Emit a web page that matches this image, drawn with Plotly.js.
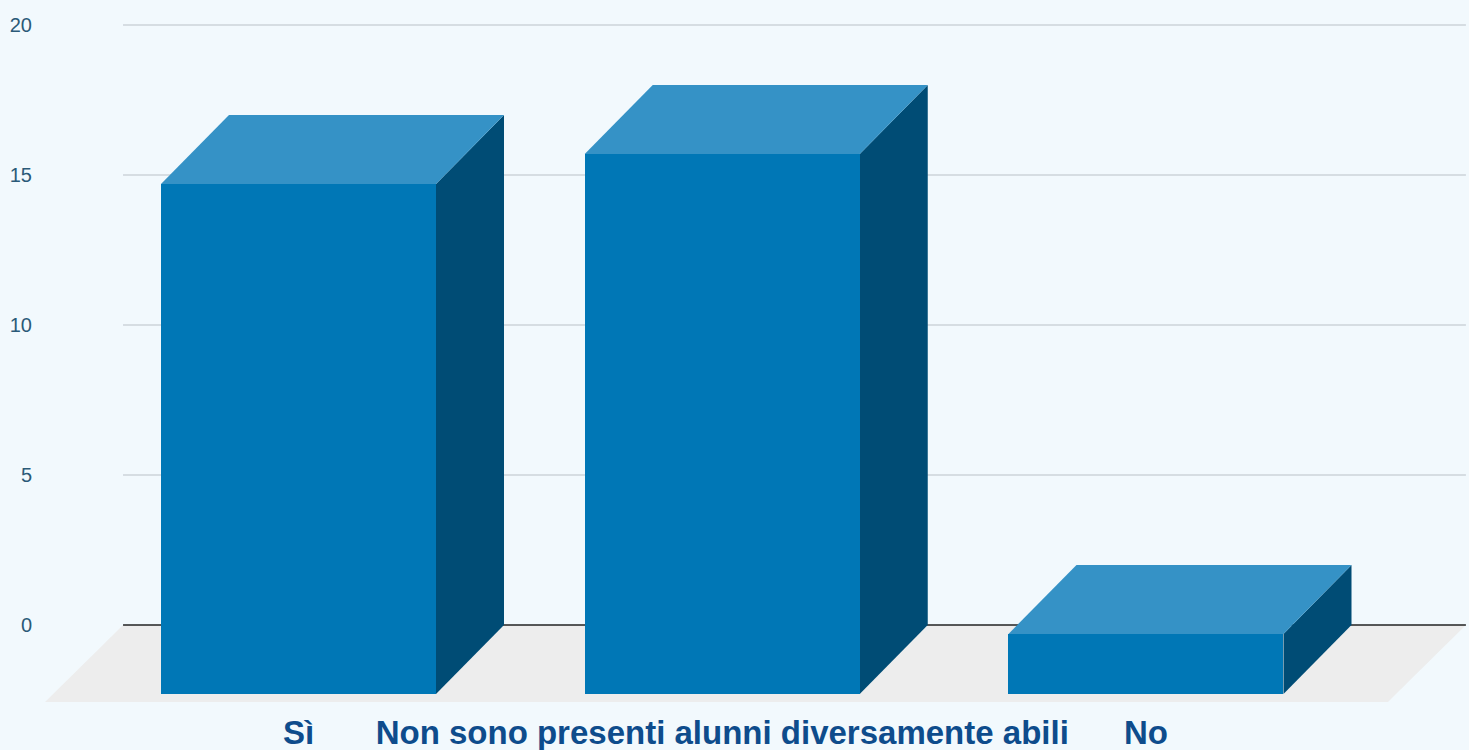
<!DOCTYPE html>
<html>
<head>
<meta charset="utf-8">
<script src="https://cdn.plot.ly/plotly-3.0.1.min.js"></script>
<style>
html,body{margin:0;padding:0;background:#f2f9fd;}
#chart{width:1469px;height:750px;}
</style>
</head>
<body>
<div id="chart"></div>
<script>
// ---- data ----
const categories = ['Sì', 'Non sono presenti alunni diversamente abili', 'No'];
const values = [17, 18, 2];
const yTickValues = [0, 5, 10, 15, 20];
const yTickLabels = ['0', '5', '10', '15', '20'];

// ---- styling / geometry (in axis units) ----
const COL_FRONT = '#0077b6';
const COL_TOP = '#3592c6';
const COL_SIDE = '#004c75';
const COL_FLOOR = '#ededed';
const COL_GRID = '#ccd3d9';
const BG = '#f2f9fd';

const HALF_W = 0.3245;      // half width of the bar front face
const DEPTH_X = 0.1605;     // bar depth, x
const DEPTH_Y = 2.3;        // bar depth, y
const FLOOR_DX = 0.184;     // floor depth, x
const FLOOR_DY = 2.567;     // floor depth, y
const BACK_X0 = -0.414;     // back plane left
const BACK_X1 = 2.755;      // back plane right
const X_RANGE = [-0.6100, 2.7623];
const Y_RANGE = [-2.8333, 20.5];

const xs = categories.map((c, i) => i);
const traces = [];

function poly(px, py, color) {
  traces.push({
    type: 'scatter', mode: 'lines', x: px, y: py,
    fill: 'toself', fillcolor: color, line: {width: 0, color: color},
    hoverinfo: 'skip', showlegend: false
  });
}

// gridlines (except zero)
yTickValues.forEach(v => {
  if (v === 0) return;
  traces.push({
    type: 'scatter', mode: 'lines', x: [BACK_X0, BACK_X1], y: [v, v],
    line: {color: COL_GRID, width: 1.3}, hoverinfo: 'skip', showlegend: false
  });
});

// floor
poly([BACK_X0, BACK_X1, BACK_X1 - FLOOR_DX, BACK_X0 - FLOOR_DX, BACK_X0],
     [0, 0, -FLOOR_DY, -FLOOR_DY, 0], COL_FLOOR);

// zero line
traces.push({
  type: 'scatter', mode: 'lines', x: [BACK_X0, BACK_X1], y: [0, 0],
  line: {color: '#222222', width: 1.3}, hoverinfo: 'skip', showlegend: false
});

// side and top faces
xs.forEach((x, i) => {
  const v = values[i];
  const xl = x - HALF_W, xr = x + HALF_W;
  const yb = -DEPTH_Y, yt = v - DEPTH_Y;
  // side
  poly([xr, xr + DEPTH_X, xr + DEPTH_X, xr, xr],
       [yb, yb + DEPTH_Y, yt + DEPTH_Y, yt, yb], COL_SIDE);
  // top
  poly([xl, xr, xr + DEPTH_X, xl + DEPTH_X, xl],
       [yt, yt, yt + DEPTH_Y, yt + DEPTH_Y, yt], COL_TOP);
});

// front faces as bars, on an overlaying subplot so they sit above everything
traces.push({
  type: 'bar', x: xs, y: values, base: values.map(() => -DEPTH_Y),
  xaxis: 'x2', yaxis: 'y2',
  width: HALF_W * 2, marker: {color: COL_FRONT, line: {width: 0}},
  hoverinfo: 'skip', showlegend: false
});

const layout = {
  width: 1469, height: 750,
  margin: {l: 40, r: 0, t: 10, b: 40},
  paper_bgcolor: BG, plot_bgcolor: BG,
  showlegend: false,
  xaxis: {
    range: X_RANGE, showgrid: false, zeroline: false, showline: false,
    tickvals: xs, ticktext: categories, ticks: '',
    tickfont: {family: 'Liberation Sans, Arial, sans-serif', size: 33, color: '#0e4c8c', weight: 'bold'},
    fixedrange: true
  },
  yaxis: {
    range: Y_RANGE, showgrid: false, zeroline: false, showline: false,
    tickvals: yTickValues, ticktext: yTickLabels, ticks: '',
    tickfont: {family: 'Liberation Sans, Arial, sans-serif', size: 20, color: '#2b5a78'},
    ticklabelstandoff: 7,
    fixedrange: true
  },
  xaxis2: {
    overlaying: 'x', range: X_RANGE, visible: false, fixedrange: true
  },
  yaxis2: {
    overlaying: 'y', range: Y_RANGE, visible: false, fixedrange: true
  },
  bargap: 0
};

Plotly.newPlot('chart', traces, layout, {displayModeBar: false, staticPlot: true});
</script>
</body>
</html>
